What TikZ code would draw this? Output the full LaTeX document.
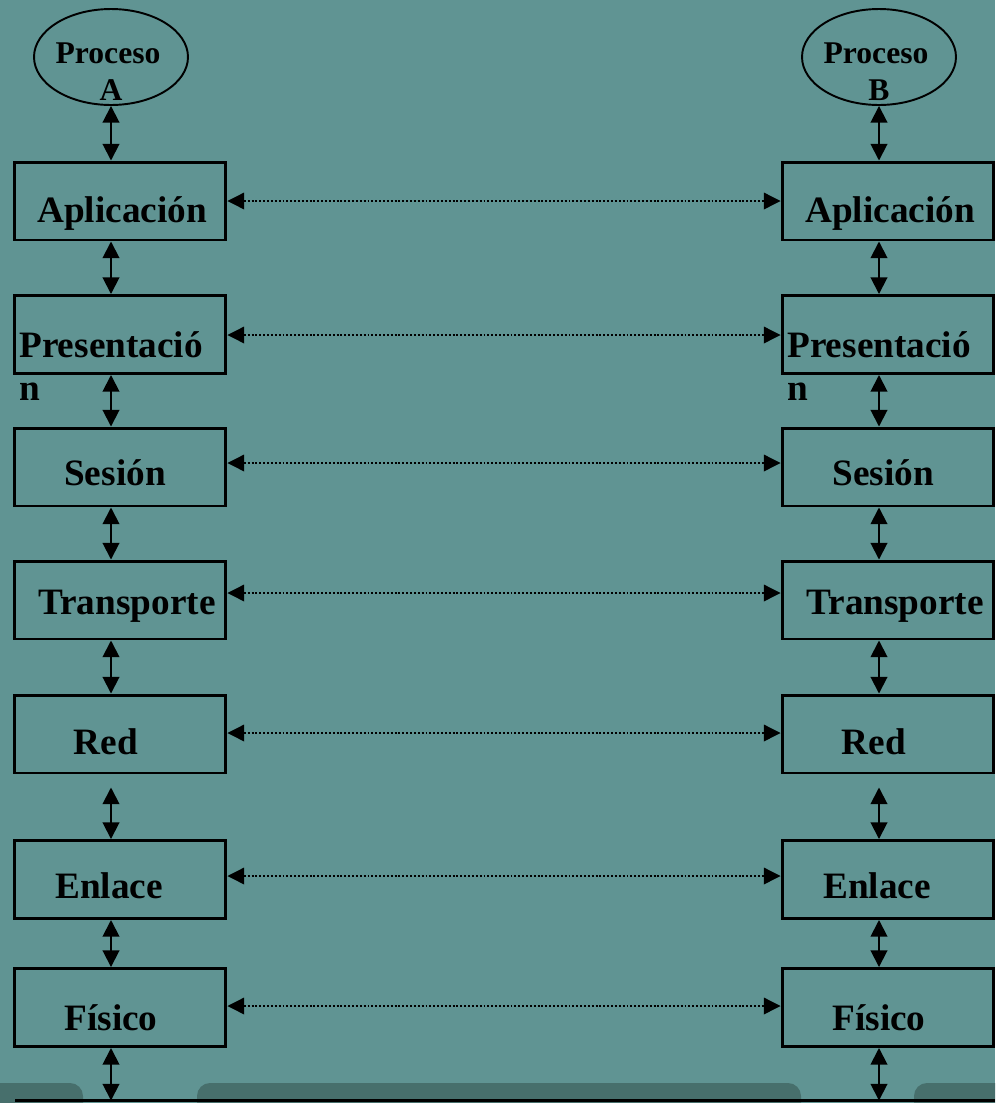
\documentclass[tikz,border=0pt]{standalone}
\usepackage{fontspec}
\setmainfont{Liberation Serif}
\usetikzlibrary{arrows.meta,shapes.geometric}
\definecolor{slidebg}{RGB}{96,148,147}
\definecolor{slidedark}{RGB}{71,111,108}
\tikzset{
  layer/.style={draw=black, line width=1.7pt, minimum width=4.24cm, minimum height=1.56cm, inner sep=0pt},
  proc/.style={ellipse, draw=black, line width=1.1pt, minimum width=3.08cm, minimum height=1.92cm, inner sep=0pt},
  lbl/.style={anchor=base, inner sep=0pt, font=\fontsize{21.2}{25}\selectfont\bfseries},
  plbl/.style={anchor=base, inner sep=0pt, font=\fontsize{18}{21}\selectfont\bfseries},
  tri/.tip={Triangle[length=9.5pt,width=9.5pt]},
  stack/.style={tri-tri, line width=1.1pt},
  peer/.style={tri-tri, dash pattern=on 1.1pt off 1.1pt, line width=0.7pt},
}
\begin{document}
\begin{tikzpicture}[x=0.02cm,y=-0.02cm]
\useasboundingbox (0,0) rectangle (995,1103);
\fill[slidebg] (0,0) rectangle (995,1103);
% darker slide shapes along the lower edge
\begin{scope}
  \clip (0,0) rectangle (995,1103);
  \fill[slidedark, rounded corners=0.26cm] (-30,1083) rectangle (83,1140);
  \fill[slidedark, rounded corners=0.26cm] (197,1083) rectangle (801,1140);
  \fill[slidedark, rounded corners=0.26cm] (914,1083) rectangle (1030,1140);
\end{scope}

% the two processes
\node[proc] (pA) at (111,57) {};
\node[proc] (pB) at (879,57) {};
\node[plbl] (pAt) at (108,63) {Proceso};
\node[plbl] (pAl) at (111,100) {A};
\node[plbl] (pBt) at (876,63) {Proceso};
\node[plbl] (pBl) at (879,100) {B};

\coordinate (axA) at (111,0);
\coordinate (axB) at (879,0);

% layer boxes and peer-to-peer links
\foreach \n/\yc/\ya in {ap/201/201, pre/334.5/335, ses/467/463, tra/600/593,
                        red/734/733, enl/879.5/876, fis/1007.5/1006} {
  \node[layer] (\n A) at (120,\yc) {};
  \node[layer] (\n B) at (888,\yc) {};
  \coordinate (\n Y) at (0,\ya);
  \draw[peer] (\n A.east |- \n Y) -- (\n B.west |- \n Y);
}

% layer names
\foreach \n/\t/\yb/\xl in {ap/Aplicación/222/122, ses/Sesión/485/115,
                           tra/Transporte/614/127, red/Red/754/106,
                           enl/Enlace/898/109, fis/Físico/1030/111} {
  \node[lbl] (\n At) at (\xl,\yb) {\t};
  \node[lbl] (\n Bt) at ({\xl+768},\yb) {\t};
}
\node[lbl, anchor=base west] (preAt) at (19,357) {Presentació};
\node[lbl, anchor=base west] (preAn) at (19,400) {n};
\node[lbl, anchor=base west] (preBt) at (787,357) {Presentació};
\node[lbl, anchor=base west] (preBn) at (787,400) {n};

% physical medium
\coordinate (busL) at (15,1100.5);
\coordinate (busR) at (995,1100.5);
\coordinate (busA) at (111,1100.5);
\coordinate (busB) at (879,1100.5);
\draw[line width=2pt] (busL) -- (busR);

% vertical links inside each stack
\foreach \s in {A,B} {
  \draw[stack] (p\s.south) -- (ap\s.north -| ax\s);
  \foreach \u/\v in {ap/pre, pre/ses, ses/tra, tra/red, enl/fis}
    \draw[stack] (\u\s.south -| ax\s) -- (\v\s.north -| ax\s);
  \draw[stack] ([yshift=-0.26cm]red\s.south -| ax\s) -- (enl\s.north -| ax\s);
  \draw[stack] (fis\s.south -| ax\s) -- (bus\s);
}
\end{tikzpicture}
\end{document}
